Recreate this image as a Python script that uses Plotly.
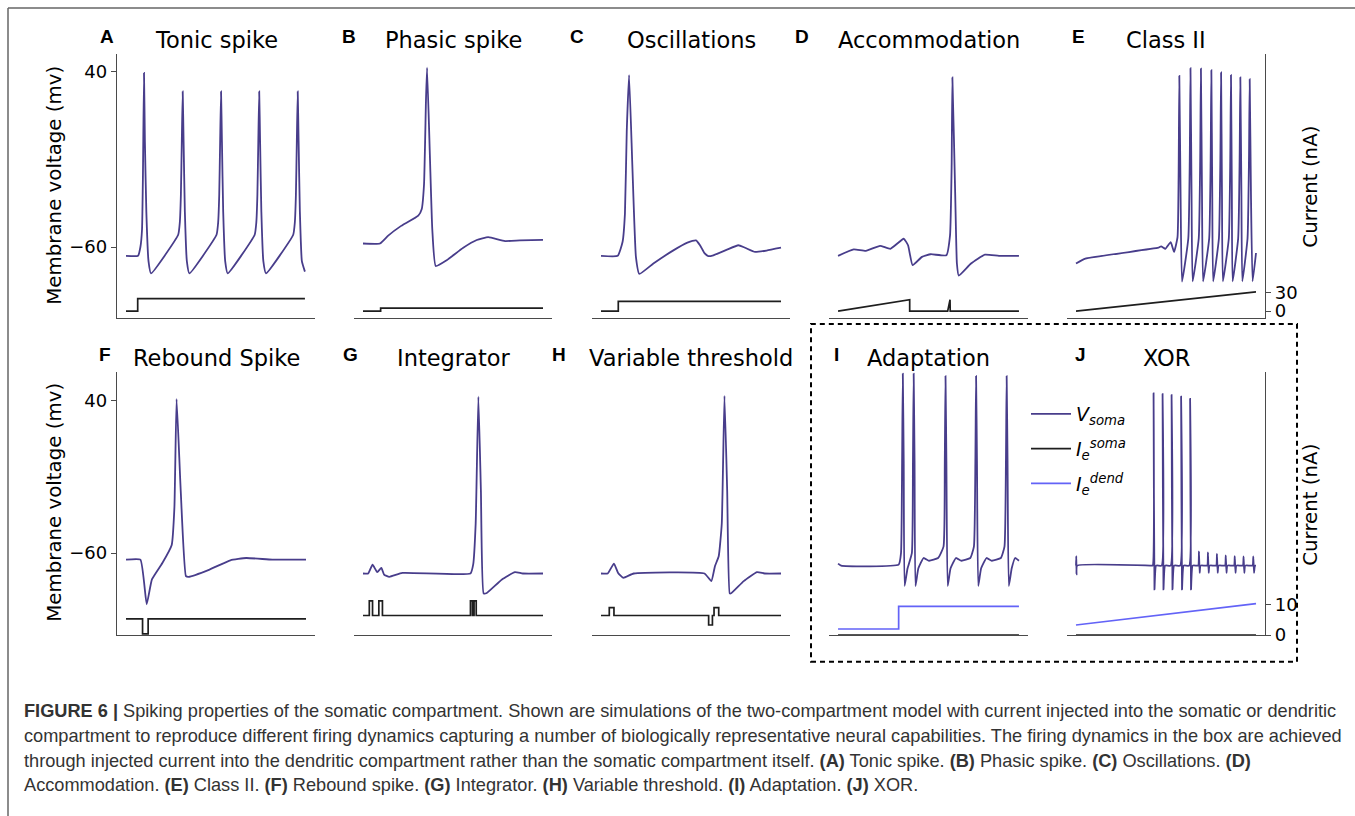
import plotly.graph_objects as go

# ---------------- data (time in ms-like units 0-100, voltage mV, current nA) -------------
A_t = [0, 6.7, 8.0, 8.9, 9.4, 10.0, 10.5, 11.3, 12.5, 13.9,
       29.0, 29.9, 30.5, 31.0, 31.5, 32.0, 32.7, 33.8, 35.2,
       50.3, 51.2, 51.8, 52.3, 52.8, 53.3, 54.0, 55.1, 56.5,
       71.5, 72.4, 73.0, 73.5, 74.0, 74.5, 75.2, 76.3, 77.8,
       92.9, 93.8, 94.4, 94.9, 95.4, 95.9, 96.6, 97.7, 99.4]
A_v = [-65, -65, -60, -50, -20, 39, 0, -40, -68, -75,
       -53, -46, -30, 0, 28.5, 0, -40, -68, -75,
       -53, -46, -30, 0, 28.5, 0, -40, -68, -75,
       -53, -46, -30, 0, 28.5, 0, -40, -68, -75,
       -53, -46, -30, 0, 28.5, 0, -40, -68, -74]
A_it = [0, 6.5, 6.5, 99.4]
A_i = [0, 0, 20, 20]

B_t = [0, 9.4, 14.0, 20.6, 30.7, 32.6, 33.9, 35.0, 35.6, 37.2, 38.5, 40.4, 46.5, 55.7, 63.2, 69.6, 78.9, 87.2, 100]
B_v = [-58, -58, -53.5, -48.4, -42.2, -38.5, -24.4, 24, 42, -9.4, -50, -70.8, -67.5, -60.4, -56, -54.4, -56.6, -56.2, -55.9]
B_it = [0, 9.8, 9.8, 100]
B_i = [0, 0, 5, 5]

C_t = [0, 9.3, 12.0, 13.3, 14.3, 15.6, 17.4, 19.4, 21.3, 29.1, 40.2, 48.0, 52.8, 55.0, 57.5, 59.6, 62.4, 70.0, 76.3, 80.0, 85.6, 92.0, 100]
C_v = [-65, -65, -57, -41, 5.6, 37.8, -13.2, -65.6, -75.3, -69.4, -61.9, -57.5, -56.2, -59, -63.5, -65.2, -64.7, -61.5, -59, -60.4, -62.8, -62, -60.4]
C_it = [0, 9.6, 9.6, 100]
C_i = [0, 0, 15.8, 15.8]

D_t = [0, 8.7, 15.4, 23.2, 28.9, 36.3, 38.7, 41.2, 46.4, 51.2, 59.9, 61.9, 62.8, 63.2, 64.8, 65.7, 66.7, 73.5, 81.2, 89, 100]
D_v = [-65, -61.3, -62.2, -59.3, -61, -55.3, -59, -70.3, -65.6, -64.1, -64.7, -53.4, -13.2, 36.5, -31.9, -69.4, -76.3, -69.4, -64.3, -65, -65]
D_it = [0, 39.6, 39.6, 60.6, 61.9, 62.0, 100]
D_i = [0, 18.3, 0, 0, 18.3, 0, 0]

E_t = [0, 5.2, 45.8, 47.3, 49.7, 52.6, 54.5, 56.4, 57.0, 57.4, 58.1, 58.9,
       62.4, 63.2, 63.6, 64.2, 64.8,
       68.2, 69.0, 69.4, 70.0, 70.6,
       74.0, 74.8, 75.2, 75.7, 76.2,
       79.4, 80.2, 80.6, 81.1, 81.6,
       84.9, 85.7, 86.1, 86.6, 87.0,
       90.1, 90.9, 91.3, 91.9, 92.4,
       95.3, 96.1, 96.5, 97.2, 98.1, 100]
E_v = [-69.4, -66.6, -60.4, -59.6, -61, -57.2, -62.8, -54.4, -20, 37.4, -30, -79.7,
       -55, -10, 41.7, -30, -79.5,
       -55, -10, 41.5, -30, -79.5,
       -55, -10, 40.6, -30, -79.5,
       -55, -10, 39.3, -30, -79.5,
       -55, -10, 37.8, -30, -79.5,
       -55, -10, 36.5, -30, -79.5,
       -55, -10, 35.5, -30, -79.5, -63.4]
E_it = [0, 100]
E_i = [0, 31]

F_t = [0, 8, 11.5, 14.4, 20.2, 25.4, 26.9, 28.1, 30.4, 33.3, 34.8, 46.4, 58, 66.8, 81.3, 100]
F_v = [-64.3, -64.3, -93.6, -77.3, -66.5, -54.6, -29.7, 41.3, -18.9, -75.1, -75.6, -70.8, -64.7, -63.2, -64.3, -64.3]
F_it = [0, 9.2, 9.2, 12.3, 12.3, 100]
F_i = [5.3, 5.3, 0.4, 0.4, 5.3, 5.3]

G_t = [0, 2.9, 5.3, 7.9, 10.2, 11.7, 14.6, 21.9, 59.7, 61.2, 62.6, 64.1, 65.5, 67.0, 68.5, 77.2, 84.4, 88.8, 100]
G_v = [-73.4, -73.4, -67.6, -72.5, -69.7, -74.1, -75.6, -73, -73.4, -67.6, -40.5, 42.8, -18.9, -86.4, -86.4, -77.3, -72.5, -73.4, -73.4]
G_it = [0, 3.5, 3.5, 5.3, 5.3, 8.8, 8.8, 10.8, 10.8, 59.7, 59.7, 60.8, 60.8, 61.7, 61.7, 62.9, 62.9, 100]
G_i = [6.4, 6.4, 11.2, 11.2, 6.4, 6.4, 11.2, 11.2, 6.4, 6.4, 11.2, 11.2, 6.4, 6.4, 11.2, 11.2, 6.4, 6.4]

H_t = [0, 3.7, 7.2, 9.5, 12.4, 18.2, 57.5, 61.3, 63.3, 65.4, 67.1, 68.6, 70.1, 71.5, 72.3, 79.3, 86.7, 90.9, 100]
H_v = [-73.4, -73.4, -66.9, -73, -76.2, -73.4, -73.4, -78.4, -68.6, -62.1, -40.5, 43.4, -18.9, -86.4, -86.4, -78.4, -72.5, -73.4, -73.4]
H_it = [0, 4.6, 4.6, 7.2, 7.2, 59.8, 59.8, 61.9, 61.9, 62.8, 62.8, 65.4, 65.4, 100]
H_i = [6.4, 6.4, 9, 9, 6.4, 6.4, 3.3, 3.3, 6.4, 6.4, 9, 9, 6.4, 6.4]

I_t = [0, 1.7, 33.5, 34.8, 35.4, 35.8, 36.3, 36.8, 38.4, 40.8,
       41.4, 41.8, 42.3, 42.8, 44.4, 47.3, 50.3, 55.3, 58.3, 59.0,
       59.4, 59.9, 60.6, 62.2, 65.2, 68.2, 73.1, 75.1, 75.9, 76.3,
       76.8, 77.5, 79.1, 82.1, 85.0, 90.0, 92.0, 92.8, 93.2, 93.7,
       94.4, 96.0, 97.9, 100]
I_v = [-66.9, -68.2, -67.6, -60, 0, 58, 0, -81.6, -70.1, -60,
       0, 58, 0, -81.6, -70, -63.2, -65, -63.2, -55.7, 0,
       56.4, 0, -81.6, -70, -63.2, -65, -63.2, -55.7, 0, 56.4,
       0, -81.6, -70, -63.2, -65, -63.2, -55.7, 0, 56.4, 0,
       -81.6, -70, -63.2, -65]
I_dend_t = [0, 33.5, 33.5, 100]
I_dend = [2, 2, 9.4, 9.4]
I_soma_t = [0, 100]
I_soma = [0, 0]

J_t = [0, 0.15, 0.3, 0.6, 41.5,
       42.6, 43.1, 43.6, 44.5,
       47.6, 48.1, 48.6, 49.5,
       52.6, 53.1, 53.6, 54.5,
       57.9, 58.4, 58.9, 59.8,
       62.9, 63.4, 63.9, 64.8,
       67.9, 68.3, 68.7, 69.2,
       72.9, 73.3, 73.7, 74.2,
       77.9, 78.3, 78.7, 79.2,
       82.8, 83.2, 83.6, 84.1,
       87.8, 88.2, 88.6, 89.1,
       92.7, 93.1, 93.5, 94.0,
       98.1, 98.5, 98.9, 99.4, 100]
J_v = [-68.2, -62, -74, -68.2, -68.2,
       -68.2, 45, -83.8, -68.2,
       -68.2, 44.5, -83.8, -68.2,
       -68.2, 43.9, -83.8, -68.2,
       -68.2, 42.8, -83.8, -68.2,
       -68.2, 41.3, -83.8, -68.2,
       -68.2, -58.9, -73, -68.2,
       -68.2, -59.5, -73, -68.2,
       -68.2, -60.5, -73, -68.2,
       -68.2, -61.5, -73, -68.2,
       -68.2, -62, -73, -68.2,
       -68.2, -62.2, -73, -68.2,
       -68.2, -62.2, -73, -68.2, -68.2]
J_dend_t = [0, 100]
J_dend = [3.3, 10.3]
J_soma_t = [0, 100]
J_soma = [0, 0]

titles = ["Tonic spike", "Phasic spike", "Oscillations", "Accommodation", "Class II",
          "Rebound Spike", "Integrator", "Variable threshold", "Adaptation", "XOR"]
letters = ["A", "B", "C", "D", "E", "F", "G", "H", "I", "J"]
v_tickvals = [40, -60]
v_ticktext = ["40", "\u221260"]
e_tickvals = [0, 30]
j_tickvals = [0, 10]

# ---------------- styles / layout geometry (pixels) ----------------
W, H = 1355, 816
PURPLE = "#483d8b"
BLACK = "#1e1e1e"
BLUE = "#6363f7"
AXC = "#4a4a4a"
cols = [(117, 315), (354, 552), (592, 790), (829, 1028), (1067, 1265)]
rows = [(55, 322), (377, 643)]
v_ranges = [[-100.4, 49.6], [-113.9, 58.8]]
i_ranges = [[-11.0, 410.7], [0, 85.8]]
letter_x = [107, 349, 577, 802, 1078, 105, 350, 559, 836, 1080]
title_y = [40, 362]

def px(x):
    return x / W

def py(y):
    return 1 - y / H

def aid(p, n):
    return p if n == 1 else f"{p}{n}"

panels = [
    (A_t, A_v, [(A_it, A_i, BLACK)]),
    (B_t, B_v, [(B_it, B_i, BLACK)]),
    (C_t, C_v, [(C_it, C_i, BLACK)]),
    (D_t, D_v, [(D_it, D_i, BLACK)]),
    (E_t, E_v, [(E_it, E_i, BLACK)]),
    (F_t, F_v, [(F_it, F_i, BLACK)]),
    (G_t, G_v, [(G_it, G_i, BLACK)]),
    (H_t, H_v, [(H_it, H_i, BLACK)]),
    (I_t, I_v, [(I_soma_t, I_soma, BLACK), (I_dend_t, I_dend, BLUE)]),
    (J_t, J_v, [(J_soma_t, J_soma, BLACK), (J_dend_t, J_dend, BLUE)]),
]
legend_names = ["<i>V<sub>soma</sub></i>", "<i>I<sub>e</sub><sup>soma</sup></i>",
                "<i>I<sub>e</sub><sup>dend</sup></i>"]

fig = go.Figure()
layout = {}
annotations = []
for k, (t, v, currents) in enumerate(panels, start=1):
    r = 0 if k <= 5 else 1
    c = (k - 1) % 5
    xid = aid("x", k)
    yv = aid("y", 2 * k - 1)
    yi = aid("y", 2 * k)
    is_I = (k == 9)
    fig.add_trace(go.Scatter(x=t, y=v, mode="lines", xaxis=xid, yaxis=yv,
                             line=dict(color=PURPLE, width=1.8, shape="spline", smoothing=0.4),
                             name=legend_names[0], showlegend=is_I, legendgroup="g0"))
    for j, (ct, cv, col) in enumerate(currents):
        fig.add_trace(go.Scatter(x=ct, y=cv, mode="lines", xaxis=xid, yaxis=yi,
                                 line=dict(color=col, width=1.7),
                                 name=legend_names[1 + j], showlegend=is_I,
                                 legendgroup=f"g{1 + j}"))
    x0, x1 = cols[c]
    top, bot = rows[r]
    layout[aid("xaxis", k)] = dict(domain=[px(x0), px(x1)], range=[-5, 105], anchor=yv,
                                   showline=True, linecolor=AXC, linewidth=1.3,
                                   showticklabels=False, ticks="", showgrid=False, zeroline=False,
                                   fixedrange=True)
    left_vis = (c == 0)
    layout[aid("yaxis", 2 * k - 1)] = dict(
        domain=[py(bot), py(top)], range=v_ranges[r], anchor=xid,
        showline=left_vis, linecolor=AXC, linewidth=1.3,
        showticklabels=left_vis, ticks="outside" if left_vis else "",
        tickvals=v_tickvals, ticktext=v_ticktext, ticklen=5, tickwidth=1.2, tickcolor=AXC,
        tickfont=dict(family="DejaVu Sans", size=18, color="black"),
        showgrid=False, zeroline=False)
    right_vis = (c == 4)
    tv = e_tickvals if r == 0 else j_tickvals
    layout[aid("yaxis", 2 * k)] = dict(
        overlaying=yv, side="right", range=i_ranges[r], anchor=xid,
        showline=right_vis, linecolor=AXC, linewidth=1.3,
        showticklabels=right_vis, ticks="outside" if right_vis else "",
        tickvals=tv, ticktext=[str(x) for x in tv], ticklen=5, tickwidth=1.2, tickcolor=AXC,
        tickfont=dict(family="DejaVu Sans", size=18, color="black"),
        showgrid=False, zeroline=False)
    annotations.append(dict(text=titles[k - 1], x=px((x0 + x1) / 2), y=py(title_y[r]),
                            xref="paper", yref="paper", showarrow=False,
                            xanchor="center", yanchor="middle",
                            font=dict(family="DejaVu Sans", size=22.5, color="black")))
    annotations.append(dict(text="<b>" + letters[k - 1] + "</b>", x=px(letter_x[k - 1]),
                            y=py(title_y[r] - 3), xref="paper", yref="paper", showarrow=False,
                            xanchor="center", yanchor="middle",
                            font=dict(family="Liberation Sans", size=19, color="black")))

for yc in [188, 509]:
    annotations.append(dict(text="Membrane voltage (mv)", x=px(55), y=py(yc), xref="paper",
                            yref="paper", showarrow=False, textangle=-90,
                            xanchor="center", yanchor="middle",
                            font=dict(family="DejaVu Sans", size=19.8, color="black")))
for yc in [189, 511]:
    annotations.append(dict(text="Current (nA)", x=px(1311), y=py(yc), xref="paper",
                            yref="paper", showarrow=False, textangle=-90,
                            xanchor="center", yanchor="middle",
                            font=dict(family="DejaVu Sans", size=19.8, color="black")))

caption_lines = [
    "<b>FIGURE 6 |</b> Spiking properties of the somatic compartment. Shown are simulations of the two-compartment model with current injected into the somatic or dendritic",
    "compartment to reproduce different firing dynamics capturing a number of biologically representative neural capabilities. The firing dynamics in the box are achieved",
    "through injected current into the dendritic compartment rather than the somatic compartment itself. <b>(A)</b> Tonic spike. <b>(B)</b> Phasic spike. <b>(C)</b> Oscillations. <b>(D)</b>",
    "Accommodation. <b>(E)</b> Class II. <b>(F)</b> Rebound spike. <b>(G)</b> Integrator. <b>(H)</b> Variable threshold. <b>(I)</b> Adaptation. <b>(J)</b> XOR.",
]
for n, line in enumerate(caption_lines):
    annotations.append(dict(text=line, x=px(22), y=py(720 + 25 * n), xref="paper", yref="paper",
                            showarrow=False, xanchor="left", yanchor="middle",
                            font=dict(family="Liberation Sans", size=18.2, color="#333333")))

shapes = [
    dict(type="rect", xref="paper", yref="paper", x0=px(811), x1=px(1297), y0=py(670), y1=py(328),
         line=dict(color="black", width=2, dash="5px,4px")),
    dict(type="line", xref="paper", yref="paper", x0=px(8), x1=1.02, y0=py(8), y1=py(8),
         line=dict(color="#666666", width=1.5)),
    dict(type="line", xref="paper", yref="paper", x0=px(8), x1=px(8), y0=py(8), y1=-0.02,
         line=dict(color="#666666", width=1.5)),
]

fig.update_layout(
    width=W, height=H, margin=dict(l=0, r=0, t=0, b=0),
    paper_bgcolor="white", plot_bgcolor="rgba(0,0,0,0)",
    annotations=annotations, shapes=shapes,
    legend=dict(x=px(1026), y=py(400), xanchor="left", yanchor="top",
                bgcolor="rgba(0,0,0,0)", font=dict(family="DejaVu Sans", size=19, color="black"),
                itemwidth=40, tracegroupgap=7),
    **layout,
)
fig.write_html("out.html")
